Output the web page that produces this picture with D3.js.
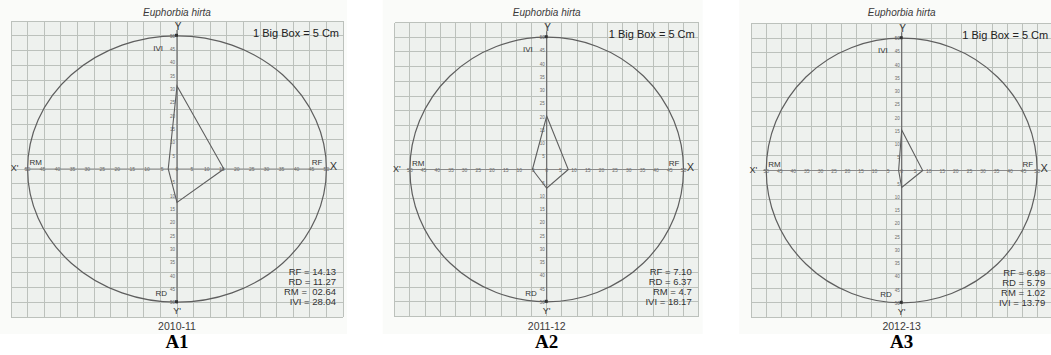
<!DOCTYPE html>
<html lang="en">
<head>
    <meta charset="UTF-8">
    <title>Euphorbia hirta - IVI polygon graphs</title>
    <script src="https://d3js.org/d3.v7.min.js"></script>
    <style>
        body { margin: 0; background: #fff; }
        svg { display: block; font-family: "Liberation Sans", Arial, sans-serif; }
        .grid line { stroke: #bcc1bc; stroke-width: 1; shape-rendering: crispEdges; }
        .tick-lbl { fill: #6a6a6a; }
    </style>
</head>
<body>
    <div id="chart"></div>

    <script>
        // data
        const years = ["2010-11", "2011-12", "2012-13"];
        const panelTags = ["A1", "A2", "A3"];
        const species = "Euphorbia hirta";
        const rf = [14.13, 7.10, 6.98];
        const rd = [11.27, 6.37, 5.79];
        const rm = [2.64, 4.7, 1.02];
        const ivi = [28.04, 18.17, 13.79];
        const rfText = ["14.13", "7.10", "6.98"];
        const rdText = ["11.27", "6.37", "5.79"];
        const rmText = [" 02.64", "4.7", "1.02"];
        const iviText = ["28.04", "18.17", "13.79"];
        const rulerTicks = [-50, -45, -40, -35, -30, -25, -20, -15, -10, -5, 0, 5, 10, 15, 20, 25, 30, 35, 40, 45, 50];

        // layout of the three scanned sheets (pixel centre and big-box size)
        const layout = [
            { cx: 177, cy: 169, cw: 16.6, ch: 14.8 },
            { cx: 546.7, cy: 169.5, cw: 15.2, ch: 14.7 },
            { cx: 901.7, cy: 170.5, cw: 15.05, ch: 14.7 }
        ];

        const width = 1051, height = 355;
        const svg = d3.select("#chart").append("svg")
            .attr("width", width)
            .attr("height", height);

        layout.forEach((p, i) => {
            // 1 big box = 5 units, sheet is 10 boxes each way from the origin
            const x = d3.scaleLinear().domain([-50, 50]).range([p.cx - 10 * p.cw, p.cx + 10 * p.cw]);
            const y = d3.scaleLinear().domain([-50, 50]).range([p.cy + 10 * p.ch, p.cy - 10 * p.ch]);
            // printed ruler on the axes runs 0..50 over the circle radius (9 boxes)
            const rx = d3.scaleLinear().domain([-50, 50]).range([x(-45), x(45)]);
            const ry = d3.scaleLinear().domain([-50, 50]).range([y(-45), y(45)]);

            const g = svg.append("g");

            // sheet backdrop
            g.append("rect")
                .attr("x", x(-50) - 12).attr("y", 0)
                .attr("width", x(50) - x(-50) + 16).attr("height", 334)
                .attr("fill", "#fafbf9");

            g.append("rect")
                .attr("x", x(-50)).attr("y", y(50))
                .attr("width", x(50) - x(-50)).attr("height", y(-50) - y(50))
                .attr("fill", "#eef1ee");

            const boxes = d3.range(-50, 50.01, 5);
            const grid = g.append("g").attr("class", "grid");
            grid.selectAll(".v").data(boxes).join("line")
                .attr("x1", d => x(d)).attr("x2", d => x(d))
                .attr("y1", y(50)).attr("y2", y(-50));
            grid.selectAll(".h").data(boxes).join("line")
                .attr("y1", d => y(d)).attr("y2", d => y(d))
                .attr("x1", x(-50)).attr("x2", x(50));

            // circle
            g.append("ellipse")
                .attr("cx", x(0)).attr("cy", y(0))
                .attr("rx", x(45) - x(0)).attr("ry", y(0) - y(45))
                .attr("fill", "none").attr("stroke", "#5e5e5e").attr("stroke-width", 1.2);

            // axes
            g.append("line")
                .attr("x1", x(-46)).attr("x2", x(46))
                .attr("y1", y(0)).attr("y2", y(0))
                .attr("stroke", "#8a8a8a").attr("stroke-width", 1);
            g.append("line")
                .attr("x1", x(0)).attr("x2", x(0))
                .attr("y1", y(47)).attr("y2", y(-45.5))
                .attr("stroke", "#6a6a6a").attr("stroke-width", 1.2);

            // ruler labels
            g.selectAll(".xt").data(rulerTicks).join("text")
                .attr("class", "tick-lbl")
                .attr("x", d => rx(d)).attr("y", y(0) + 2)
                .attr("text-anchor", "middle")
                .style("font-size", "5px")
                .text(d => Math.abs(d));
            g.selectAll(".yt").data(rulerTicks.filter(d => d !== 0)).join("text")
                .attr("class", "tick-lbl")
                .attr("x", x(0) - 2).attr("y", d => ry(d) + 2)
                .attr("text-anchor", "end")
                .style("font-size", "4.5px")
                .text(d => Math.abs(d));
            g.selectAll(".yd").data([50, -50]).join("rect")
                .attr("x", x(0) - 2).attr("y", d => ry(d) - 2)
                .attr("width", 3).attr("height", 3)
                .attr("fill", "#333");

            // polygon RF - RD - RM - IVI
            const pts = [[x(rf[i]), y(0)], [x(0), y(-rd[i])], [x(-rm[i]), y(0)], [x(0), y(ivi[i])]];
            g.append("path")
                .attr("d", d3.line()(pts) + "Z")
                .attr("fill", "none")
                .attr("stroke", "#5e5e5e")
                .attr("stroke-width", 1.1);

            // labels
            g.append("text")
                .attr("x", x(0)).attr("y", 15.5)
                .attr("text-anchor", "middle")
                .style("font-size", "10px").style("font-style", "italic")
                .attr("fill", "#3a3a3a")
                .text(species);
            g.append("text")
                .attr("x", x(50) - 4).attr("y", y(50) + 15.5)
                .attr("text-anchor", "end")
                .style("font-size", "11px")
                .attr("fill", "#222")
                .text("1 Big Box = 5 Cm");
            g.append("text")
                .attr("x", x(0) + 1).attr("y", y(45) - 6)
                .attr("text-anchor", "middle")
                .style("font-size", "10px")
                .attr("fill", "#333")
                .text("Y");
            g.append("text")
                .attr("x", x(0) - 14).attr("y", y(45) + 15)
                .attr("text-anchor", "end")
                .style("font-size", "8px")
                .attr("fill", "#333")
                .text("IVI");
            g.append("text")
                .attr("x", x(-45) - 13).attr("y", y(0) + 2)
                .attr("text-anchor", "middle")
                .style("font-size", "9px")
                .attr("fill", "#333")
                .text("X'");
            g.append("text")
                .attr("x", x(45) + 7).attr("y", y(0) + 1)
                .attr("text-anchor", "middle")
                .style("font-size", "11px")
                .attr("fill", "#333")
                .text("X");
            g.append("text")
                .attr("x", x(-45) + 2).attr("y", y(0) - 4)
                .style("font-size", "8px")
                .attr("fill", "#333")
                .text("RM");
            g.append("text")
                .attr("x", x(45) - 4).attr("y", y(0) - 4)
                .attr("text-anchor", "end")
                .style("font-size", "8px")
                .attr("fill", "#333")
                .text("RF");
            g.append("text")
                .attr("x", x(0)).attr("y", y(-45) + 12)
                .attr("text-anchor", "middle")
                .style("font-size", "9px")
                .attr("fill", "#333")
                .text("Y'");
            g.append("text")
                .attr("x", x(0) - 10).attr("y", y(-45) - 6)
                .attr("text-anchor", "end")
                .style("font-size", "8px")
                .attr("fill", "#333")
                .text("RD");

            const vals = ["RF = " + rfText[i], "RD = " + rdText[i], "RM = " + rmText[i], "IVI = " + iviText[i]];
            g.append("text")
                .attr("text-anchor", "end")
                .style("font-size", "9.5px")
                .style("white-space", "pre")
                .attr("fill", "#333")
                .selectAll("tspan").data(vals).join("tspan")
                .attr("x", x(50) - 7)
                .attr("y", (d, k) => y(-50) - 42 + k * 10)
                .text(d => d);

            g.append("text")
                .attr("x", x(0)).attr("y", 330)
                .attr("text-anchor", "middle")
                .style("font-size", "10.5px")
                .attr("fill", "#3a3a3a")
                .text(years[i]);
            g.append("text")
                .attr("x", x(0)).attr("y", 348)
                .attr("text-anchor", "middle")
                .style("font-family", "'Liberation Serif', 'Times New Roman', serif")
                .style("font-size", "19px").style("font-weight", "bold")
                .attr("fill", "#000")
                .text(panelTags[i]);
        });
    </script>
</body>
</html>
